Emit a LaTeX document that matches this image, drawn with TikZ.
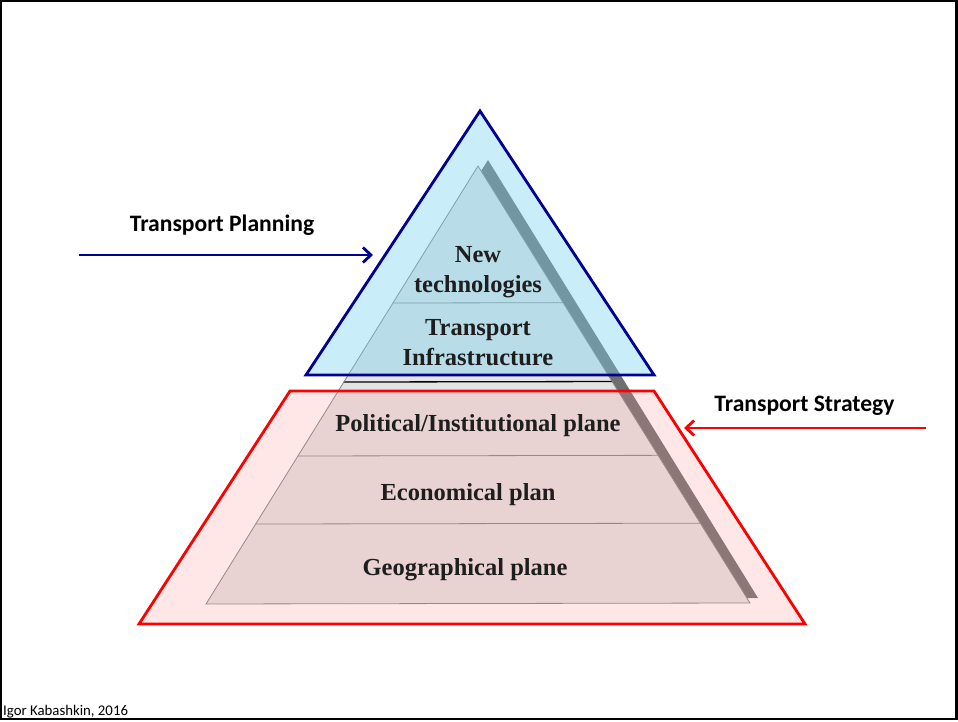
\documentclass[tikz,border=0pt]{standalone}
\usepackage{fontspec}
\setmainfont{Liberation Serif}
\newfontfamily\calib{Carlito}
\usetikzlibrary{arrows.meta,calc}
\definecolor{navyb}{RGB}{0,0,145}
\definecolor{pyrgray}{RGB}{228,228,228}
\definecolor{pyrline}{RGB}{130,130,130}
\definecolor{shadowgray}{RGB}{110,110,110}
\definecolor{cyanfill}{RGB}{120,210,240}
\definecolor{pinkfill}{RGB}{255,150,150}
\definecolor{ptext}{RGB}{30,30,30}
\tikzset{
  layertext/.style={font=\fontsize{24.5}{30}\selectfont\bfseries, text=ptext, anchor=base, inner sep=0pt, align=center},
  sidelabel/.style={font=\calib\fontsize{23.6}{28}\selectfont\bfseries, anchor=base, inner sep=0pt},
  footer/.style={font=\calib\fontsize{14.8}{17}\selectfont, anchor=base west, inner sep=0pt},
  layerline/.style={draw=pyrline, line width=0.8pt},
  planarrow/.style={draw=navyb, line width=2.8pt, -{Straight Barb[length=8pt,width=15pt,line width=2.8pt]}},
  stratarrow/.style={draw=red, line width=2.8pt, -{Straight Barb[length=8pt,width=15pt,line width=2.8pt]}},
}
\begin{document}
\begin{tikzpicture}[x=1pt,y=-1pt]
\useasboundingbox (0,0) rectangle (958,722);
\fill[white] (0,0) rectangle (958,722);
\draw[line width=2.2pt] (1.1,1.1) rectangle (956.5,719);

% pyramid corners
\coordinate (A) at (478,166);
\coordinate (BL) at (206,604);
\coordinate (BR) at (750,603);

% shadow
\fill[shadowgray] ($(A)+(10,-6)$) -- ($(BR)+(8,-5)$) -- ($(BL)+(8,-5)$) -- cycle;
% pyramid body
\fill[pyrgray] (A) -- (BR) -- (BL) -- cycle;

% layer lines
\coordinate (L1) at ($(A)!0.3128!(BL)$); \coordinate (R1) at ($(A)!0.3128!(BR)$);
\coordinate (L2) at ($(A)!0.4932!(BL)$); \coordinate (R2) at ($(A)!0.4932!(BR)$);
\coordinate (L3) at ($(A)!0.6621!(BL)$); \coordinate (R3) at ($(A)!0.6621!(BR)$);
\coordinate (L4) at ($(A)!0.8174!(BL)$); \coordinate (R4) at ($(A)!0.8174!(BR)$);
\draw[layerline] (L1) -- (R1);
\draw[black, line width=1.3pt] (L2) -- (R2);
\draw[layerline] (L3) -- (R3);
\draw[layerline] (L4) -- (R4);
\draw[pyrline, line width=0.8pt] (A) -- (BR) -- (BL) -- cycle;

% blue triangle (Transport Planning)
\coordinate (TA) at (480,111);
\coordinate (TL) at (306,375);
\coordinate (TR) at (654,375);
\fill[cyanfill, fill opacity=0.4] (TA) -- (TR) -- (TL) -- cycle;
\draw[navyb, line width=2.8pt, line join=miter] (TA) -- (TR) -- (TL) -- cycle;

% red trapezoid (Transport Strategy)
\coordinate (QTL) at (290,391);
\coordinate (QTR) at (654,391);
\coordinate (QBR) at (805,624);
\coordinate (QBL) at (139,624);
\fill[pinkfill, fill opacity=0.22] (QTL) -- (QTR) -- (QBR) -- (QBL) -- cycle;
\draw[red, line width=2.8pt, line join=miter] (QTL) -- (QTR) -- (QBR) -- (QBL) -- cycle;

% layer texts
\node[layertext] (newtech) at (478,292) {New\\technologies};
\node[layertext] (infra) at (478,365) {Transport\\Infrastructure};
\node[layertext] (polit) at (478,431) {Political/Institutional plane};
\node[layertext] (econ) at (468,500) {Economical plan};
\node[layertext] (geo) at (465,575) {Geographical plane};

% side labels and arrows
\node[sidelabel] (planning) at (222,232) {Transport Planning};
\coordinate (pstart) at (79,255);
\coordinate (pend) at (373,255);
\draw[planarrow] (pstart) -- (pend);

\node[sidelabel] (strategy) at (804.5,411) {Transport Strategy};
\coordinate (sstart) at (926,428);
\coordinate (send) at (684,428);
\draw[stratarrow] (sstart) -- (send);

\node[footer] (author) at (3,715) {Igor Kabashkin, 2016};
\end{tikzpicture}
\end{document}
